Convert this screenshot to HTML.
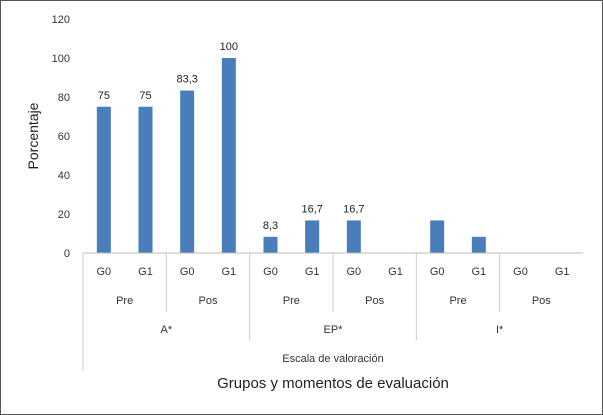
<!DOCTYPE html>
<html><head><meta charset="utf-8"><style>
body{margin:0;background:#fff}
svg{display:block;font-family:"Liberation Sans",sans-serif}
</style></head><body>
<svg id="c" width="603" height="415">
<rect x="0.5" y="0.5" width="602" height="414" fill="#fff" stroke="#555" stroke-width="1"/>
</svg>
<script>
const groups = ["G0","G1","G0","G1","G0","G1","G0","G1","G0","G1","G0","G1"];
const moments = ["Pre","Pos","Pre","Pos","Pre","Pos"];
const scales = ["A*","EP*","I*"];
const values = [75,75,83.3,100,8.3,16.7,16.7,0,16.7,8.3,0,0];
const labels = ["75","75","83,3","100","8,3","16,7","16,7","","","","",""];
const yTicks = [0,20,40,60,80,100,120];
const NS="http://www.w3.org/2000/svg";
const svg=document.getElementById('c');
const X0=83,X1=583,Y0=253,Y1=19,YMAX=120;
const bw=(X1-X0)/values.length;
const y=v=>Y0-(v/YMAX)*(Y0-Y1);
const xc=i=>X0+bw*(i+0.5);
function mk(t,a){const e=document.createElementNS(NS,t);for(const k in a)e.setAttribute(k,a[k]);svg.appendChild(e);return e;}
function txt(s,x,yy,size,fill,anchor){const e=mk('text',{x:x,y:yy,'font-size':size,fill:fill,'text-anchor':anchor||'middle'});e.textContent=s;return e;}
yTicks.forEach(v=>{const t=txt(String(v),70,y(v)+4,11,'#333','end');

});
values.forEach((v,i)=>{const r=mk('rect',{x:xc(i)-7,y:y(v),width:14,height:Y0-y(v),fill:'#4a7ebb'});


if(labels[i]){const t=txt(labels[i],xc(i),y(v)-8,11,'#222');

}});
const ax=mk('line',{x1:X0,y1:Y0,x2:X1,y2:Y0,stroke:'#bbb'});


groups.forEach((g,i)=>{const t=txt(g,xc(i),275,11,'#333');

});
moments.forEach((m,i)=>{const t=txt(m,X0+bw*(2*i+1),304,11,'#333');


if(i%2==1){const l=mk('line',{x1:X0+bw*2*i,y1:Y0,x2:X0+bw*2*i,y2:312,stroke:'#ccc'});

}});
scales.forEach((s,i)=>{const t=txt(s,X0+bw*(4*i+2),333,11,'#333');


const xx=X0+bw*4*i;const l=mk('line',{x1:xx,y1:Y0,x2:xx,y2:i==0?370:340,stroke:'#ccc'});

});
const e1=txt('Escala de valoración',333,362,11,'#333');


const e2=txt('Grupos y momentos de evaluación',333,388,15,'#222');


const e3=txt('Porcentaje',38,136,14,'#222');
e3.setAttribute('transform','rotate(-90 38 136)');


</script>
</body></html>
